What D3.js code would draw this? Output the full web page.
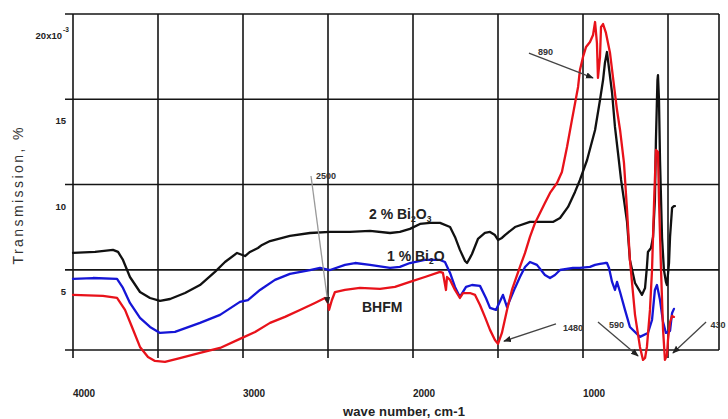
<!DOCTYPE html>
<html><head><meta charset="utf-8">
<script src="https://cdn.jsdelivr.net/npm/d3@7/dist/d3.min.js"></script>
<style>body{margin:0;background:#fff}svg{display:block}</style>
</head><body>
<svg id="c" width="728" height="419"></svg>
<script>
// ---------- data ----------
const xTicks = [4000, 3500, 3000, 2500, 2000, 1500, 1000, 500];
const xTickLabels = ["4000", "3000", "2000", "1000"];
const xLabelValues = [4000, 3000, 2000, 1000];
const yTicks = [20, 15, 10, 5];
const yTickLabels = ["20x10", "15", "10", "5"];
const seriesNames = ["2 % Bi2O3", "1 % Bi2O", "BHFM"];

const black2pct = [
 [4000,5.99],[3870,6.05],[3765,6.17],[3735,6.05],[3706,5.58],[3665,4.58],[3606,3.70],[3547,3.35],
 [3488,3.18],[3429,3.29],[3341,3.64],[3253,4.11],[3165,4.88],[3106,5.46],[3035,5.99],[2988,5.81],
 [2959,6.05],[2912,6.28],[2888,6.46],[2841,6.69],[2724,6.99],[2606,7.16],[2488,7.22],[2371,7.22],
 [2253,7.28],[2135,7.16],[2077,7.22],[2018,7.40],[1959,7.69],[1900,7.75],[1841,7.75],[1782,7.51],
 [1753,6.93],[1724,6.17],[1694,5.52],[1682,5.40],[1665,5.70],[1653,5.93],[1618,6.81],[1577,7.16],
 [1547,7.22],[1518,7.04],[1500,6.75],[1477,6.87],[1459,7.04],[1400,7.51],[1312,7.81],[1224,7.81],
 [1177,7.81],[1135,8.04],[1088,8.69],[1047,9.57],[1018,10.27],[976,11.44],[929,13.20],[900,14.96],
 [882,16.13],[871,17.13],[859,17.77],[829,15.37],[812,13.38],[794,11.85],[776,10.27],[759,9.10],
 [741,7.81],[724,5.58],[694,4.23],[653,3.53],[635,3.94],[624,5.17],[618,6.05],[600,6.28],[588,6.93],
 [577,9.10],[571,12.61],[562,16.13],[559,16.42],[553,14.96],[547,11.44],[535,6.87],[524,5.0],
 [512,4.29],[506,4.11],[494,5.40],[488,6.93],[476,8.63],[465,8.74],[459,8.74]
];
const blue1pct = [
 [4000,4.47],[3882,4.52],[3741,4.47],[3706,3.94],[3665,3.06],[3606,2.18],[3547,1.65],[3488,1.30],
 [3400,1.36],[3253,1.89],[3135,2.36],[3018,3.12],[2971,3.23],[2900,3.82],[2812,4.41],[2724,4.76],
 [2606,4.99],[2547,5.11],[2488,4.99],[2400,5.29],[2341,5.40],[2253,5.29],[2135,5.11],[2077,5.17],
 [2018,5.40],[1930,5.58],[1841,5.58],[1812,5.46],[1782,4.82],[1753,4.00],[1724,3.41],[1688,4.00],
 [1653,4.11],[1606,4.06],[1571,3.35],[1547,2.77],[1512,2.65],[1471,3.53],[1447,2.82],[1430,3.23],
 [1400,3.94],[1371,4.58],[1341,5.17],[1312,5.46],[1271,5.29],[1224,4.70],[1194,4.52],[1165,4.70],
 [1135,4.99],[1059,5.11],[1018,5.11],[959,5.17],[929,5.29],[900,5.35],[871,5.40],[859,5.40],
 [847,5.11],[829,4.29],[812,3.82],[800,4.29],[782,3.70],[753,2.65],[724,1.65],[665,1.07],[618,1.30],
 [594,2.06],[577,3.82],[565,4.11],[547,3.23],[529,1.94],[512,1.30],[488,1.42],[476,2.47],[465,2.71]
];
const redBHFM = [
 [4000,3.53],[3824,3.47],[3741,3.35],[3694,2.65],[3653,1.65],[3606,0.48],[3559,-0.11],[3518,-0.34],
 [3459,-0.40],[3371,-0.17],[3253,0.13],[3135,0.42],[3018,0.95],[2929,1.36],[2841,1.89],[2753,2.24],
 [2665,2.65],[2577,3.06],[2518,3.35],[2500,3.06],[2494,2.65],[2477,3.23],[2459,3.70],[2400,3.82],
 [2312,3.94],[2194,3.88],[2106,4.00],[2018,4.29],[1930,4.58],[1841,4.88],[1824,4.82],[1806,3.82],
 [1800,4.58],[1782,4.41],[1753,3.82],[1724,3.35],[1706,3.64],[1665,3.64],[1635,3.53],[1606,2.94],
 [1577,2.24],[1547,1.48],[1518,0.89],[1500,0.66],[1477,1.30],[1447,2.65],[1418,3.82],[1371,5.17],
 [1341,5.99],[1312,6.93],[1282,7.75],[1253,8.33],[1224,8.92],[1194,9.51],[1153,10.09],[1124,10.74],
 [1094,12.20],[1065,13.79],[1029,15.72],[1018,16.72],[1000,17.48],[982,18.07],[959,18.36],[941,18.77],
 [929,19.53],[918,18.30],[912,16.25],[900,17.48],[894,19.24],[882,19.41],[865,18.89],[841,17.71],
 [824,16.31],[800,14.37],[782,13.20],[759,11.27],[741,8.51],[724,5.58],[694,2.36],[665,0.48],
 [647,-0.28],[635,-0.17],[624,0.48],[606,2.65],[594,4.99],[582,8.92],[571,12.03],[559,11.91],
 [553,9.10],[541,4.99],[529,1.48],[518,-0.28],[506,0.01],[500,0.89],[488,1.94],[476,2.30],[465,2.24]
];

// annotations: label, arrow tip [wn, T], arrow tail [wn, T], text anchor [wn, T]
const annoLabels = ["2500", "890", "1480", "590", "430"];
const annoTips = [[2500, 3.0], [941, 16.25], [1465, 0.82], [676, -0.05], [471, 0.13]];
const annoTails = [[2600, 10.5], [1318, 17.7], [1159, 1.83], [912, 1.94], [276, 1.94]];
const annoText = [[2571, 10.33], [1265, 17.6], [1118, 1.42], [847, 1.6], [250, 1.6]];

// ---------- drawing ----------
const svg = d3.select("#c");
const x = d3.scaleLinear().domain([4000, 200]).range([73, 719]);
const y = d3.scaleLinear().domain([0.3, 20]).range([350, 14]);
const [x0, x1] = x.range();
const [yB, yT] = y.range();
const ink = "#151515";
const font = "Liberation Sans, Arial, sans-serif";

const defs = svg.append("defs");
defs.append("marker").attr("id", "ah").attr("viewBox", "0 0 10 10")
  .attr("refX", 9).attr("refY", 5).attr("markerWidth", 6).attr("markerHeight", 6)
  .attr("orient", "auto").append("path").attr("d", "M0,1 L10,5 L0,9 Z").attr("fill", "#222");

// grid (horizontal lines with left ticks)
const g = svg.append("g");
g.selectAll("line.h").data(yTicks.concat([0.3])).join("line")
  .attr("x1", x0 - 8).attr("x2", x1)
  .attr("y1", d => y(d)).attr("y2", d => y(d))
  .attr("stroke", ink).attr("stroke-width", 1.6);
// vertical lines with bottom ticks
g.selectAll("line.v").data(xTicks).join("line")
  .attr("x1", d => x(d)).attr("x2", d => x(d))
  .attr("y1", yT).attr("y2", yB + 8)
  .attr("stroke", ink).attr("stroke-width", 1.6);
g.append("line").attr("x1", x1).attr("x2", x1).attr("y1", yT).attr("y2", yB)
  .attr("stroke", ink).attr("stroke-width", 1.6);

// y tick labels
const yl = svg.append("g").attr("font-family", font)
  .attr("font-size", 9.5).attr("font-weight", "bold").attr("fill", "#222");
yl.selectAll("text").data(yTicks).join("text")
  .attr("x", (d, i) => i === 0 ? 62 : 66).attr("y", d => y(d) + 25).attr("text-anchor", "end")
  .text((d, i) => yTickLabels[i]);
yl.append("text").attr("x", 63).attr("y", y(20) + 18).attr("font-size", 6.5).text("-3");

// x tick labels
svg.append("g").attr("font-family", font)
  .attr("font-size", 10).attr("font-weight", "bold").attr("fill", "#222")
  .selectAll("text").data(xLabelValues).join("text")
  .attr("x", d => x(d) + 11).attr("y", 397).attr("text-anchor", "middle")
  .text((d, i) => xTickLabels[i]);

// axis titles
svg.append("text").attr("transform", "translate(23,196) rotate(-90)")
  .attr("text-anchor", "middle").attr("font-family", font)
  .attr("font-size", 14).attr("fill", "#333")
  .attr("textLength", 137).attr("lengthAdjust", "spacing").text("Transmission, %");
svg.append("text").attr("x", 404).attr("y", 416)
  .attr("text-anchor", "middle").attr("font-family", font)
  .attr("font-size", 13).attr("font-weight", "bold").attr("fill", "#222")
  .attr("textLength", 122).attr("lengthAdjust", "spacing").text("wave number, cm-1");

// series lines
const line = d3.line().x(d => x(d[0])).y(d => y(d[1])).curve(d3.curveLinear);
const series = [
  {data: black2pct, col: "#111111"},
  {data: blue1pct, col: "#1515d6"},
  {data: redBHFM, col: "#e8121a"}
];
svg.append("g").selectAll("path").data(series).join("path")
  .attr("d", d => line(d.data)).attr("fill", "none")
  .attr("stroke", d => d.col).attr("stroke-width", 2.3)
  .attr("stroke-linejoin", "round").attr("stroke-linecap", "round");

// series labels
const lab = svg.append("g").attr("font-family", font)
  .attr("font-weight", "bold").attr("fill", "#222").attr("font-size", 14);
function chem(px, py, parts) {
  const tx = lab.append("text").attr("x", px).attr("y", py);
  parts.forEach(p => {
    tx.append("tspan").attr("font-size", p[1] ? 8.5 : 14).attr("dy", p[1] ? 3 : (p[2] || 0)).text(p[0]);
  });
}
chem(369, 219, [["2 % Bi"], ["2", true], ["O", false, -3], ["3", true]]);
chem(387, 261, [["1 % Bi"], ["2", true], ["O", false, -3]]);
lab.append("text").attr("x", 362).attr("y", 312).text(seriesNames[2]);

// annotations
const an = svg.append("g");
annoLabels.forEach((t, i) => {
  an.append("line")
    .attr("x1", x(annoTails[i][0])).attr("y1", y(annoTails[i][1]))
    .attr("x2", x(annoTips[i][0])).attr("y2", y(annoTips[i][1]))
    .attr("stroke", i === 0 ? "#999" : "#444").attr("stroke-width", 1.3)
    .attr("marker-end", "url(#ah)");
  an.append("text").attr("x", x(annoText[i][0])).attr("y", y(annoText[i][1]))
    .attr("font-family", font).attr("font-size", 9)
    .attr("font-weight", "bold").attr("fill", "#333").text(t);
});
</script>
</body></html>
